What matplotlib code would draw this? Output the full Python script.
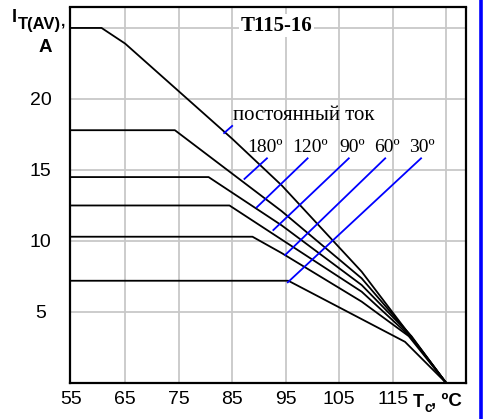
import matplotlib
matplotlib.use("Agg")
import matplotlib.pyplot as plt

# ============================
# Data
# ============================
t_dc = [55, 60.6, 65, 85, 94.3, 109.2, 125]
i_dc = [25.0, 25.0, 23.9, 17.2, 13.9, 7.84, 0]

t_180 = [55, 74.3, 94.25, 109.2, 118, 125]
i_180 = [17.8, 17.8, 12.1, 7.37, 3.5, 0]

t_120 = [55, 80.6, 94.25, 109.2, 118.5, 125]
i_120 = [14.5, 14.5, 11.1, 6.9, 3.3, 0]

t_90 = [55, 84.5, 94.25, 109.2, 118.5, 125]
i_90 = [12.5, 12.5, 10.1, 6.43, 3.2, 0]

t_60 = [55, 88.8, 94.25, 109.2, 118, 125]
i_60 = [10.3, 10.3, 9.15, 5.73, 3.3, 0]

t_30 = [55, 95.5, 117.3, 125]
i_30 = [7.2, 7.2, 2.9, 0]

curves = [(t_dc, i_dc), (t_180, i_180), (t_120, i_120),
          (t_90, i_90), (t_60, i_60), (t_30, i_30)]

# leader lines: (x0, y0) on curve -> (x1, y1) under the label
leaders = [
    ((83.5, 17.6), (85.0, 18.1)),
    ((87.3, 14.37), (91.5, 15.82)),
    ((89.6, 12.37), (99.1, 15.82)),
    ((92.7, 10.77), (106.8, 15.82)),
    ((94.9, 9.01), (113.6, 15.82)),
    ((95.4, 7.09), (120.3, 15.82)),
]
angle_labels = ["180º", "120º", "90º", "60º", "30º"]
angle_label_x = [91.2, 99.6, 107.4, 113.9, 120.5]

x_ticks = [55, 65, 75, 85, 95, 105, 115]
y_ticks = [5, 10, 15, 20]

W, H = 486, 419
fig = plt.figure(figsize=(W / 100, H / 100), dpi=100)
ax = fig.add_axes([70 / W, 1 - 383 / H, (466 - 70) / W, (383 - 7.5) / H])

def fx(px):
    return px / W

def fy(py):
    return 1 - py / H

# grid
for gx in [65, 75, 85, 95, 105, 115, 125]:
    ax.axvline(gx, color="#c8c8c8", lw=1.3, zorder=0)
for gy in [5, 10, 15, 20, 25]:
    ax.axhline(gy, color="#c8c8c8", lw=1.3, zorder=0)

for t, i in curves:
    ax.plot(t, i, color="black", lw=1.3, zorder=3)

for (x0, y0), (x1, y1) in leaders:
    ax.plot([x0, x1], [y0, y1], color="#0000ff", lw=1.3, zorder=4)

serif = "Liberation Serif"
ax.text(85.2, 18.85, "постоянный ток", family=serif, fontsize=15,
        ha="left", va="center", zorder=5)
for lab, lx in zip(angle_labels, angle_label_x):
    ax.text(lx, 16.6, lab, family=serif, fontsize=14, ha="center",
            va="center", zorder=5)

ax.text(93.3, 25.15, "T115-16", family=serif, fontsize=15, fontweight="bold",
        ha="center", va="center", zorder=5,
        bbox=dict(facecolor="white", edgecolor="none", pad=1.0))

ax.set_xlim(54.7, 128.7)
ax.set_ylim(0, 26.44)
ax.set_xticks(x_ticks)
ax.set_xticklabels([str(v) for v in x_ticks], family="Liberation Sans",
                   fontsize=14)
ax.set_yticks(y_ticks)
ax.set_yticklabels([str(v) for v in y_ticks], family="Liberation Sans",
                   fontsize=14, ha="center")
ax.tick_params(axis="x", length=0, pad=6)
ax.tick_params(axis="y", length=0, pad=21)
for s in ax.spines.values():
    s.set_linewidth(1.6)
    s.set_color("black")

# axis labels
sans = "Liberation Sans"
fig.text(fx(12), fy(22), "I", family=sans, fontsize=13, fontweight="bold",
         ha="left", va="baseline")
fig.text(fx(17.5), fy(29.5), "T(AV)", family=sans, fontsize=12, fontweight="bold",
         ha="left", va="baseline")
fig.text(fx(60.5), fy(25), ",", family=sans, fontsize=11, fontweight="bold",
         ha="left", va="baseline")
fig.text(fx(45), fy(52), "A", family=sans, fontsize=13.5, fontweight="bold",
         ha="center", va="baseline")

fig.text(fx(413), fy(407), "T", family=sans, fontsize=13, fontweight="bold",
         ha="left", va="baseline")
fig.text(fx(424), fy(412), "c", family=sans, fontsize=10, fontweight="bold",
         ha="left", va="baseline")
fig.text(fx(431), fy(406), ", ºC", family=sans, fontsize=13.5, fontweight="bold",
         ha="left", va="baseline")

# blue frame line on the right
fig.add_artist(plt.Line2D([fx(481), fx(481)], [0, 1], color="#0000ff", lw=2.6))

fig.savefig("out.png", dpi=100)
